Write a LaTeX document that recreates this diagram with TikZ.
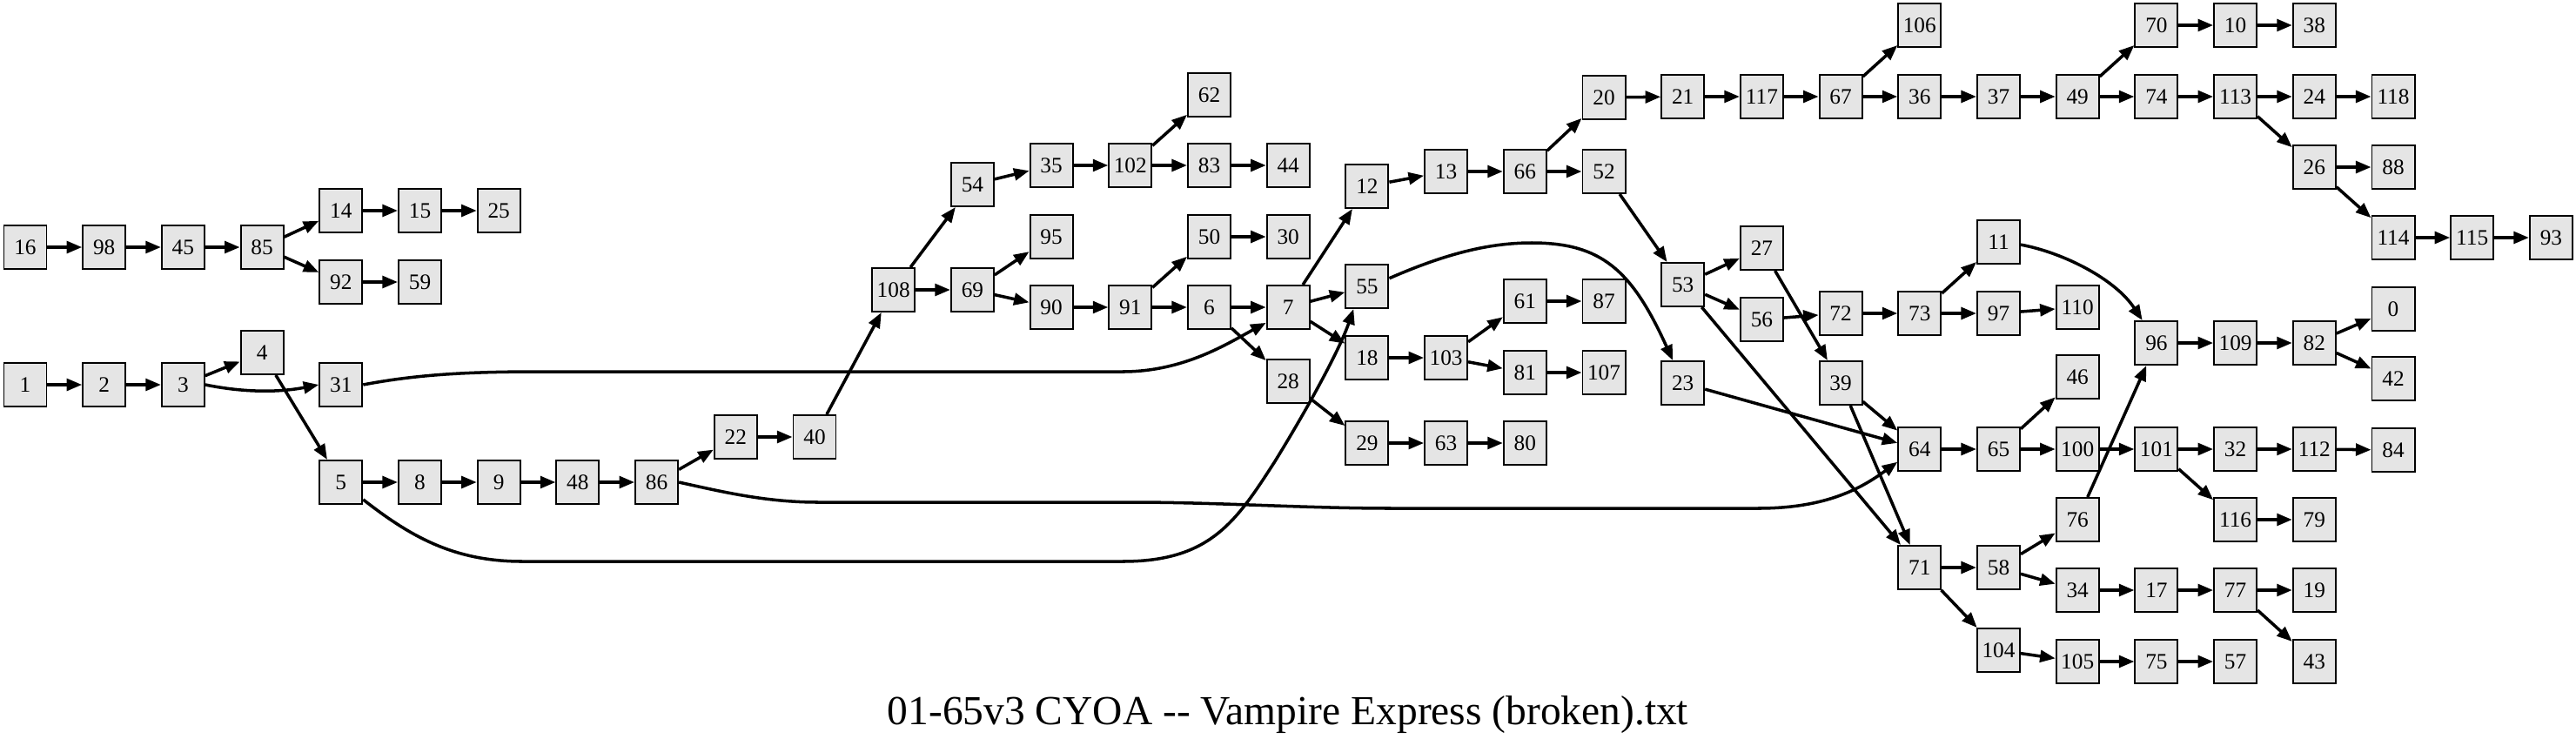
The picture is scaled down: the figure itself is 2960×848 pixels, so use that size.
\documentclass[tikz,border=0pt]{standalone}
\usepackage{fontspec}
\setmainfont{Liberation Serif}
\usetikzlibrary{arrows.meta,calc}
\definecolor{boxgray}{HTML}{E5E5E5}
\begin{document}
\begin{tikzpicture}[x=0.01cm,y=-0.01cm,
  box/.style={draw, line width=0.55pt, fill=boxgray, minimum width=0.49cm, minimum height=0.5cm, inner sep=0pt, font=\fontsize{7.2pt}{8pt}\selectfont},
  edge/.style={line width=1pt, -{Triangle[length=5pt,width=3.9pt]}}]
\useasboundingbox (0,0) rectangle (2960,848);
% col0
\node[box] (n16) at (29,284) {16};
\node[box] (n1) at (29,442) {1};
% col1
\node[box] (n98) at (119.7,284) {98};
\node[box] (n2) at (119.7,442) {2};
% col2
\node[box] (n45) at (210.4,284) {45};
\node[box] (n3) at (210.4,442) {3};
% col3
\node[box] (n85) at (301.1,284) {85};
\node[box] (n4) at (301.1,405) {4};
% col4
\node[box] (n14) at (391.8,242) {14};
\node[box] (n92) at (391.8,324) {92};
\node[box] (n31) at (391.8,442) {31};
\node[box] (n5) at (391.8,554) {5};
% col5
\node[box] (n15) at (482.5,242) {15};
\node[box] (n59) at (482.5,324) {59};
\node[box] (n8) at (482.5,554) {8};
% col6
\node[box] (n25) at (573.2,242) {25};
\node[box] (n9) at (573.2,554) {9};
% col7
\node[box] (n48) at (663.9,554) {48};
% col8
\node[box] (n86) at (754.6,554) {86};
% col9
\node[box] (n22) at (845.3,502) {22};
% col10
\node[box] (n40) at (936,502) {40};
% col11
\node[box] (n108) at (1026.7,333) {108};
% col12
\node[box] (n54) at (1117.4,212) {54};
\node[box] (n69) at (1117.4,333) {69};
% col13
\node[box] (n35) at (1208.1,190) {35};
\node[box] (n95) at (1208.1,272) {95};
\node[box] (n90) at (1208.1,353) {90};
% col14
\node[box] (n102) at (1298.8,190) {102};
\node[box] (n91) at (1298.8,353) {91};
% col15
\node[box] (n62) at (1389.5,109) {62};
\node[box] (n83) at (1389.5,190) {83};
\node[box] (n50) at (1389.5,272) {50};
\node[box] (n6) at (1389.5,353) {6};
% col16
\node[box] (n44) at (1480.2,190) {44};
\node[box] (n30) at (1480.2,272) {30};
\node[box] (n7) at (1480.2,353) {7};
\node[box] (n28) at (1480.2,438) {28};
% col17
\node[box] (n12) at (1570.9,214) {12};
\node[box] (n55) at (1570.9,329) {55};
\node[box] (n18) at (1570.9,411) {18};
\node[box] (n29) at (1570.9,509) {29};
% col18
\node[box] (n13) at (1661.6,197) {13};
\node[box] (n103) at (1661.6,411) {103};
\node[box] (n63) at (1661.6,509) {63};
% col19
\node[box] (n66) at (1752.3,197) {66};
\node[box] (n61) at (1752.3,346) {61};
\node[box] (n81) at (1752.3,428) {81};
\node[box] (n80) at (1752.3,509) {80};
% col20
\node[box] (n20) at (1843,112) {20};
\node[box] (n52) at (1843,197) {52};
\node[box] (n87) at (1843,346) {87};
\node[box] (n107) at (1843,428) {107};
% col21
\node[box] (n21) at (1933.7,111) {21};
\node[box] (n53) at (1933.7,327) {53};
\node[box] (n23) at (1933.7,440) {23};
% col22
\node[box] (n117) at (2024.4,111) {117};
\node[box] (n27) at (2024.4,285) {27};
\node[box] (n56) at (2024.4,367) {56};
% col23
\node[box] (n67) at (2115.1,111) {67};
\node[box] (n72) at (2115.1,360) {72};
\node[box] (n39) at (2115.1,440) {39};
% col24
\node[box] (n106) at (2205.8,29) {106};
\node[box] (n36) at (2205.8,111) {36};
\node[box] (n73) at (2205.8,360) {73};
\node[box] (n64) at (2205.8,516) {64};
\node[box] (n71) at (2205.8,652) {71};
% col25
\node[box] (n37) at (2296.5,111) {37};
\node[box] (n11) at (2296.5,278) {11};
\node[box] (n97) at (2296.5,360) {97};
\node[box] (n65) at (2296.5,516) {65};
\node[box] (n58) at (2296.5,652) {58};
\node[box] (n104) at (2296.5,747) {104};
% col26
\node[box] (n49) at (2387.2,111) {49};
\node[box] (n110) at (2387.2,353) {110};
\node[box] (n46) at (2387.2,433) {46};
\node[box] (n100) at (2387.2,516) {100};
\node[box] (n76) at (2387.2,597) {76};
\node[box] (n34) at (2387.2,678) {34};
\node[box] (n105) at (2387.2,760) {105};
% col27
\node[box] (n70) at (2477.9,29) {70};
\node[box] (n74) at (2477.9,111) {74};
\node[box] (n96) at (2477.9,394) {96};
\node[box] (n101) at (2477.9,516) {101};
\node[box] (n17) at (2477.9,678) {17};
\node[box] (n75) at (2477.9,760) {75};
% col28
\node[box] (n10) at (2568.6,29) {10};
\node[box] (n113) at (2568.6,111) {113};
\node[box] (n109) at (2568.6,394) {109};
\node[box] (n32) at (2568.6,516) {32};
\node[box] (n116) at (2568.6,597) {116};
\node[box] (n77) at (2568.6,678) {77};
\node[box] (n57) at (2568.6,760) {57};
% col29
\node[box] (n38) at (2659.3,29) {38};
\node[box] (n24) at (2659.3,111) {24};
\node[box] (n26) at (2659.3,192) {26};
\node[box] (n82) at (2659.3,394) {82};
\node[box] (n112) at (2659.3,516) {112};
\node[box] (n79) at (2659.3,597) {79};
\node[box] (n19) at (2659.3,678) {19};
\node[box] (n43) at (2659.3,760) {43};
% col30
\node[box] (n118) at (2750,111) {118};
\node[box] (n88) at (2750,192) {88};
\node[box] (n114) at (2750,273) {114};
\node[box] (n0) at (2750,355) {0};
\node[box] (n42) at (2750,435) {42};
\node[box] (n84) at (2750,517) {84};
% col31, col32
\node[box] (n115) at (2840.7,273) {115};
\node[box] (n93) at (2931.4,273) {93};

\node[font=\fontsize{13.5pt}{16pt}\selectfont, anchor=base, inner sep=0pt] (title) at (1480,832) {01-65v3 CYOA -{}- Vampire Express (broken).txt};

% straight edges
\foreach \a/\b in {16/98,98/45,45/85,85/14,85/92,14/15,15/25,92/59,
  1/2,2/3,3/4,4/5,5/8,8/9,9/48,48/86,86/22,22/40,40/108,
  108/54,108/69,54/35,35/102,102/62,102/83,83/44,69/95,69/90,90/91,
  91/50,91/6,50/30,6/7,6/28,7/12,7/55,7/18,12/13,13/66,66/20,66/52,
  18/103,103/61,103/81,61/87,81/107,28/29,29/63,63/80,
  20/21,21/117,117/67,67/106,67/36,36/37,37/49,49/70,49/74,70/10,10/38,
  74/113,113/24,113/26,24/118,26/88,26/114,114/115,115/93,
  52/53,53/27,53/56,53/71,27/39,56/72,72/73,73/11,73/97,97/110,
  39/64,39/71,23/64,64/65,65/46,65/100,100/101,101/32,101/116,32/112,112/84,116/79,
  71/58,71/104,58/76,58/34,76/96,34/17,17/77,77/19,77/43,104/105,105/75,75/57,
  96/109,109/82,82/0,82/42}
  \draw[edge] (n\a) -- (n\b);

% curved edges
\draw[edge] (n3.east) .. controls (280,451) and (320,451) .. (n31.west);
\draw[edge] (n31.east) .. controls (480,430) and (540,427) .. (620,427) -- (1290,427)
  .. controls (1360,427) and (1410,395) .. (n7.215);
\draw[edge] (n5.-38) .. controls (470,615) and (520,645) .. (600,645) -- (1290,645)
  .. controls (1390,645) and (1420,600) .. (1465,530)
  .. controls (1505,465) and (1540,400) .. (n55.239);
\draw[edge] (n86.east) .. controls (830,565) and (880,577) .. (940,577) -- (1300,577)
  .. controls (1400,577) and (1500,584) .. (1600,584) -- (2020,584)
  .. controls (2100,584) and (2140,560) .. (n64.210);
\draw[edge] (n55.20) .. controls (1660,292) and (1710,279) .. (1760,279)
  .. controls (1840,279) and (1875,310) .. (n23.114);
\draw[edge] (n11.-7) .. controls (2370,290) and (2430,320) .. (n96.122);
\end{tikzpicture}
\end{document}
